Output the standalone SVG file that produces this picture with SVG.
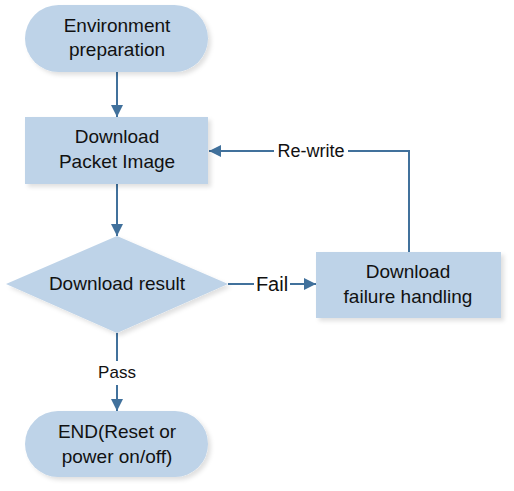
<svg xmlns="http://www.w3.org/2000/svg" width="514" height="491" viewBox="0 0 514 491">
<defs>
<filter id="sh" x="-10%" y="-10%" width="130%" height="140%">
<feDropShadow dx="3" dy="3" stdDeviation="2" flood-color="#000" flood-opacity="0.12"/>
</filter>
<marker id="ah" viewBox="0 0 12 12" refX="12" refY="6" markerWidth="12" markerHeight="12" markerUnits="userSpaceOnUse" orient="auto">
<path d="M0,0 L12,6 L0,12 Z" fill="#41719c"/>
</marker>
<style>
.n{fill:#bed3e8;filter:url(#sh)}
.t{font-family:"Liberation Sans",Arial,sans-serif;font-size:19px;fill:#111;text-anchor:middle}
.l{font-family:"Liberation Sans",Arial,sans-serif;font-size:17px;fill:#111;text-anchor:middle}
.c{fill:none;stroke:#41719c;stroke-width:2}
</style>
</defs>
<rect width="514" height="491" fill="#fff"/>
<g id="connectors">
<line class="c" x1="117" y1="72" x2="117" y2="117" marker-end="url(#ah)"/>
<line class="c" x1="117" y1="184" x2="117" y2="236" marker-end="url(#ah)"/>
<line class="c" x1="228" y1="284" x2="316" y2="284" marker-end="url(#ah)"/>
<polyline class="c" points="409,252 409,151 209,151" marker-end="url(#ah)"/>
<line class="c" x1="117" y1="333" x2="117" y2="411" marker-end="url(#ah)"/>
<rect x="274" y="140" width="74" height="22" fill="#fff"/>
<text class="l" x="311" y="157" style="font-size:18px">Re-write</text>
<rect x="254" y="272" width="36" height="24" fill="#fff"/>
<text class="l" x="272" y="291" style="font-size:20px">Fail</text>
<rect x="96" y="361" width="42" height="24" fill="#fff"/>
<text class="l" x="117" y="378">Pass</text>
</g>
<g id="start">
<rect class="n" x="25" y="5" width="183" height="67" rx="33.5"/>
<text class="t" x="117" y="32">Environment</text>
<text class="t" x="117" y="56">preparation</text>
</g>
<g id="download">
<rect class="n" x="25" y="117" width="183" height="67"/>
<text class="t" x="117" y="143">Download</text>
<text class="t" x="117" y="168">Packet Image</text>
</g>
<g id="result">
<polygon class="n" points="117,236 228,284 117,333 6,284"/>
<text class="t" x="117" y="290">Download result</text>
</g>
<g id="failure">
<rect class="n" x="316" y="252" width="185" height="66"/>
<text class="t" x="408" y="278">Download</text>
<text class="t" x="408" y="303">failure handling</text>
</g>
<g id="end">
<rect class="n" x="25" y="411" width="183" height="66" rx="33"/>
<text class="t" x="117" y="438">END(Reset or</text>
<text class="t" x="117" y="463">power on/off)</text>
</g>
</svg>
